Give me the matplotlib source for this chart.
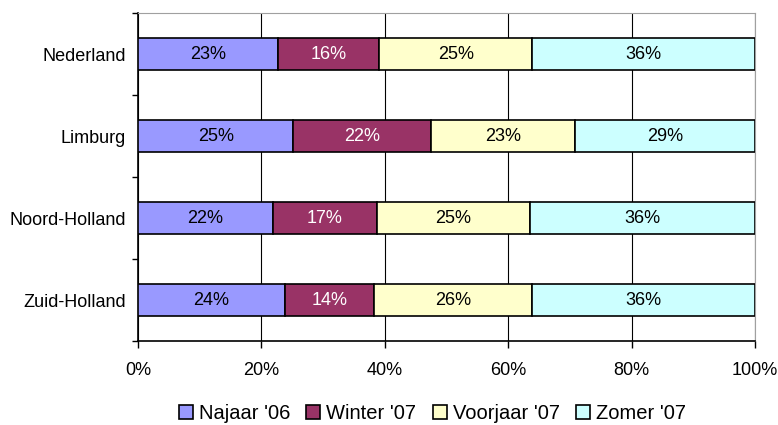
import matplotlib.pyplot as plt
import numpy as np

plt.rcParams['font.family'] = ['Liberation Sans', 'DejaVu Sans']

# categories from top to bottom
regios = ['Nederland', 'Limburg', 'Noord-Holland', 'Zuid-Holland']
seizoenen = ["Najaar '06", "Winter '07", "Voorjaar '07", "Zomer '07"]

# shares in percent (estimated from the bar boundaries)
najaar_06 = [22.7, 25.2, 21.9, 23.8]
winter_07 = [16.4, 22.3, 16.8, 14.4]
voorjaar_07 = [24.8, 23.4, 24.9, 25.7]
zomer_07 = [36.1, 29.1, 36.4, 36.1]

kleuren = ['#9999FF', '#993366', '#FFFFCC', '#CCFFFF']
tekstkleur = ['black', 'white', 'black', 'black']

fig = plt.figure(figsize=(7.78, 4.25), dpi=100)
ax = fig.add_axes([0.1774, 0.1976, 0.7930, 0.7718])

y = np.arange(len(regios))[::-1]
links = np.zeros(len(regios))
for reeks, naam, kleur, tk in zip([najaar_06, winter_07, voorjaar_07, zomer_07],
                                  seizoenen, kleuren, tekstkleur):
    reeks = np.array(reeks, dtype=float)
    balken = ax.barh(y, reeks, left=links, height=0.39, color=kleur,
                     edgecolor='black', linewidth=1.2, label=naam, zorder=3)
    for b, v in zip(balken, reeks):
        ax.text(b.get_x() + b.get_width() / 2, b.get_y() + b.get_height() / 2,
                f'{round(v)}%', ha='center', va='center', color=tk, fontsize=13,
                zorder=4)
    links += reeks

ax.set_xlim(0, 100)
ax.set_ylim(-0.5, len(regios) - 0.5)
ax.set_xticks(np.arange(0, 101, 20))
ax.set_xticklabels([f'{t}%' for t in range(0, 101, 20)])
ax.set_yticks(y)
ax.set_yticklabels(regios)
ax.set_yticks(np.arange(-0.5, len(regios), 1), minor=True)
ax.tick_params(axis='y', which='major', length=0, pad=9, labelsize=13)
ax.tick_params(axis='y', which='minor', length=4, width=1, color='black')
ax.tick_params(axis='x', length=5, width=1, pad=10, labelsize=13)

ax.grid(axis='x', color='black', linewidth=0.8, zorder=0)
ax.spines['left'].set_color('black')
ax.spines['bottom'].set_color('black')
ax.spines['left'].set_linewidth(1.2)
ax.spines['bottom'].set_linewidth(1.2)
ax.spines['top'].set_color('#A0A0A0')
ax.spines['right'].set_color('#A0A0A0')

ax.legend(loc='center', bbox_to_anchor=(0.477, -0.22), ncol=4, frameon=False,
          fontsize=14.5, handlelength=0.7, handleheight=0.7, handletextpad=0.3,
          columnspacing=0.8, borderaxespad=0)

fig.savefig('out.png', dpi=100)
